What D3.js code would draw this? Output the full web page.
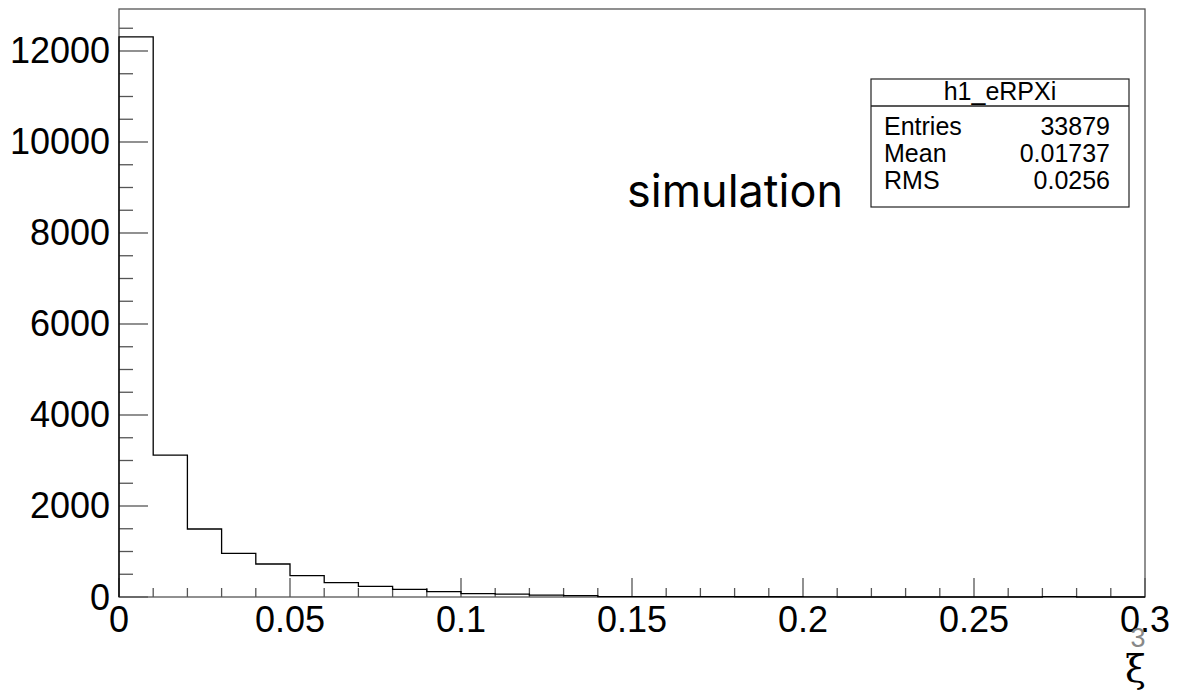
<!DOCTYPE html>
<html>
<head>
<meta charset="utf-8">
<script src="https://cdn.jsdelivr.net/npm/d3@7"></script>
<style>
  body { margin: 0; background: #fff; }
  text { font-family: "Liberation Sans", Arial, sans-serif; }
</style>
</head>
<body>
<svg id="chart"></svg>
<script>
// bin lower edges and counts
var binLow = [0, 0.01, 0.02, 0.03, 0.04, 0.05, 0.06, 0.07, 0.08, 0.09,
              0.10, 0.11, 0.12, 0.13, 0.14, 0.15, 0.16, 0.17, 0.18, 0.19,
              0.20, 0.21, 0.22, 0.23, 0.24, 0.25, 0.26, 0.27, 0.28, 0.29];
var counts = [12310, 3120, 1495, 960, 725, 468, 315, 235, 169, 117,
              75, 65, 40, 30, 10, 9, 8, 7, 6, 5,
              4, 0, 0, 0, 0, 0, 0, 10, 0, 0];
var binWidth = 0.01;

var xMajor = [0, 0.05, 0.1, 0.15, 0.2, 0.25, 0.3];
var xLabels = ["0", "0.05", "0.1", "0.15", "0.2", "0.25", "0.3"];
var yMajor = [0, 2000, 4000, 6000, 8000, 10000, 12000];
var statNames = ["Entries", "Mean", "RMS"];
var statValues = ["33879", "0.01737", "0.0256"];

var W = 1194, H = 692;
var padL = 119, padR = 1145, padT = 9, padB = 597;

var svg = d3.select("#chart").attr("width", W).attr("height", H);

var x = d3.scaleLinear().domain([0, 0.3]).range([padL, padR]);
var y = d3.scaleLinear().domain([0, 12923]).range([padB, padT]);

// frame
svg.append("rect")
   .attr("x", padL).attr("y", padT)
   .attr("width", padR - padL).attr("height", padB - padT)
   .attr("fill", "none").attr("stroke", "#555").attr("stroke-width", 1.3);

// x ticks (inward), minor every 0.01
var xMinor = d3.range(0, 31).map(function(i) { return i / 100; });
xMinor.forEach(function(v) {
    var major = xMajor.some(function(m) { return Math.abs(m - v) < 1e-9; });
    drawLine(x(v), padB, x(v), padB - (major ? 19 : 9), "#555");
});
// y ticks (inward), minor every 500
var yMinor = d3.range(0, 26).map(function(i) { return i * 500; });
yMinor.forEach(function(v) {
    var major = v % 2000 === 0;
    drawLine(padL, y(v), padL + (major ? 29 : 14), y(v), "#555");
});

// tick labels
xMajor.forEach(function(v, i) {
    drawText(x(v), 632, xLabels[i], 36, "middle", "#000");
});
yMajor.forEach(function(v) {
    svg.append("text")
       .attr("x", 110).attr("y", y(v))
       .attr("text-anchor", "end")
       .attr("dominant-baseline", "central")
       .style("font-size", "36px")
       .text(v);
});

// histogram outline
var pts = [[x(binLow[0]), y(0)]];
counts.forEach(function(c, i) {
    pts.push([x(binLow[i]), y(c)]);
    pts.push([x(binLow[i] + binWidth), y(c)]);
});
pts.push([x(0.3), y(0)]);
svg.append("path")
   .attr("d", d3.line()(pts))
   .attr("fill", "none")
   .attr("stroke", "#000")
   .attr("stroke-width", 1.3);

// stats box
svg.append("rect")
   .attr("x", 871).attr("y", 79).attr("width", 258).attr("height", 128)
   .attr("fill", "#fff").attr("stroke", "#222").attr("stroke-width", 1.2);
drawLine(871, 106, 1129, 106, "#222");
drawText(1000, 100, "h1_eRPXi", 25, "middle", "#000");
var rowY = [135, 162, 189];
statNames.forEach(function(n, i) {
    drawText(884, rowY[i], n, 25, "start", "#000");
    drawText(1110, rowY[i], statValues[i], 25, "end", "#000");
});

// overlay annotation
svg.append("text")
   .attr("x", 627).attr("y", 207)
   .style("font-family", "Inter, 'Open Sans', sans-serif")
   .style("font-size", "45px")
   .text("simulation");

// axis title and slide number
drawText(1138, 647, "3", 27, "middle", "#888");
svg.append("text")
   .attr("x", 1146).attr("y", 682)
   .attr("text-anchor", "end")
   .style("font-family", "'DejaVu Serif', serif")
   .style("font-size", "38px")
   .text("ξ");

function drawLine(x1, y1, x2, y2, color) {
    svg.append("line")
       .attr("x1", x1).attr("y1", y1)
       .attr("x2", x2).attr("y2", y2)
       .attr("stroke", color)
       .attr("stroke-width", 1.3);
}

function drawText(xp, yp, txt, size, anchor, color) {
    svg.append("text")
       .attr("x", xp).attr("y", yp)
       .attr("text-anchor", anchor)
       .attr("fill", color)
       .style("font-size", size + "px")
       .text(txt);
}
</script>
</body>
</html>
